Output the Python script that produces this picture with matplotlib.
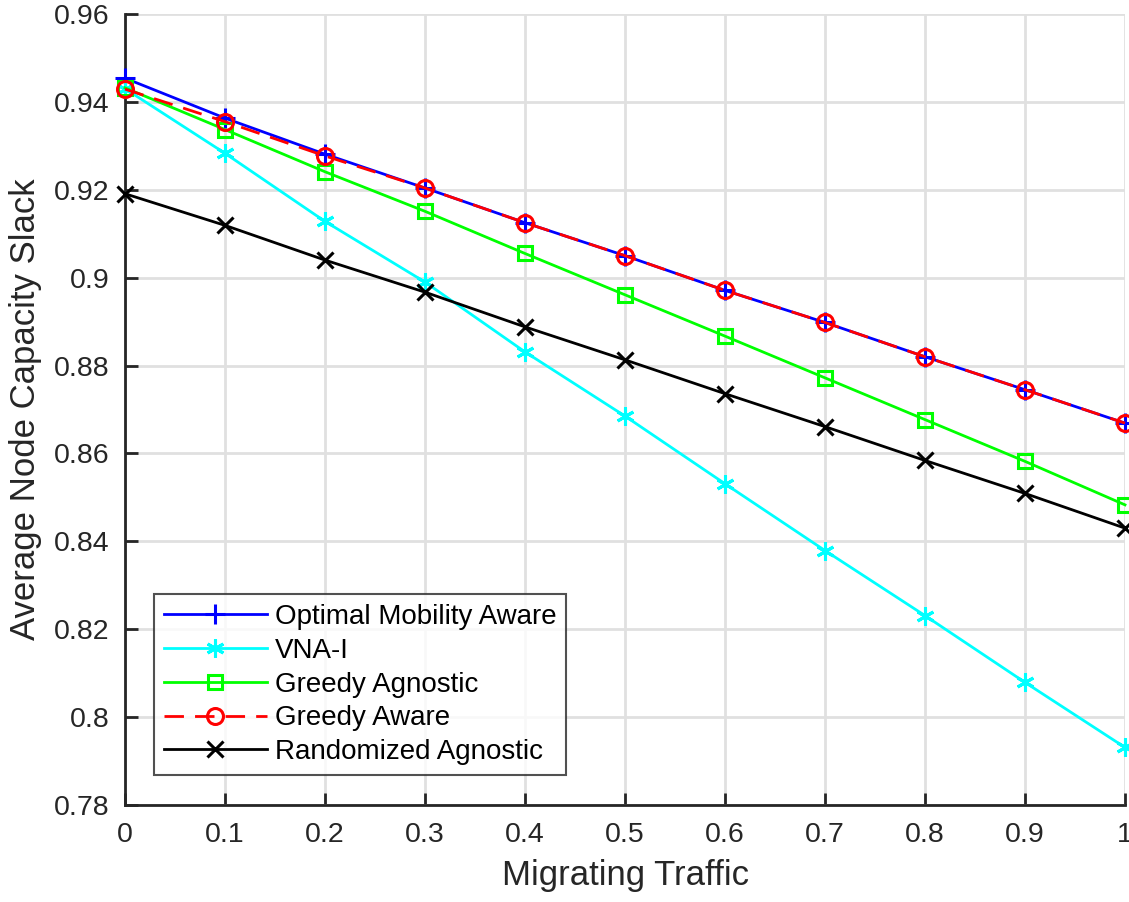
import numpy as np
import matplotlib
matplotlib.use("Agg")
import matplotlib.pyplot as plt

plt.rcParams['font.family'] = ['Liberation Sans', 'DejaVu Sans']

# Migrating traffic ratio
traffic = [0.0, 0.1, 0.2, 0.3, 0.4, 0.5, 0.6, 0.7, 0.8, 0.9, 1.0]

# Average node capacity slack per algorithm
optimal_aware = [0.9454, 0.9363, 0.9281, 0.9204, 0.9125, 0.9050, 0.8971,
                 0.8898, 0.8820, 0.8745, 0.8669]
vna_i = [0.9430, 0.9283, 0.9128, 0.8990, 0.8831, 0.8685, 0.8531,
         0.8379, 0.8231, 0.8079, 0.7931]
greedy_agnostic = [0.9432, 0.9337, 0.9241, 0.9151, 0.9055, 0.8961, 0.8867,
                   0.8772, 0.8677, 0.8582, 0.8483]
greedy_aware = [0.9429, 0.9355, 0.9277, 0.9204, 0.9125, 0.9050, 0.8971,
                0.8898, 0.8820, 0.8745, 0.8669]
random_agnostic = [0.9191, 0.9119, 0.9040, 0.8967, 0.8888, 0.8813, 0.8736,
                   0.8661, 0.8584, 0.8509, 0.8430]

fig = plt.figure(figsize=(11.29, 9.02), dpi=100)
ax = fig.add_axes([125/1129, 1 - 805/902, 1000/1129, 791/902])

lw = 2.0
ax.plot(traffic, optimal_aware, '-', color='#0000ff', marker='+', ms=14, mew=2.2,
        lw=lw, label='Optimal Mobility Aware', clip_on=False, zorder=3)
ax.plot(traffic, vna_i, '-', color='#00ffff', marker=(6, 2, 0), ms=13, mew=2.2,
        lw=lw, label='VNA-I', clip_on=False, zorder=3)
ax.plot(traffic, greedy_agnostic, '-', color='#00ff00', marker='s', ms=9.5, mew=2.2,
        mfc='none', lw=lw, label='Greedy Agnostic', clip_on=False, zorder=3)
ax.plot(traffic, greedy_aware, '--', color='#ff0000', marker='o', ms=11.5, mew=2.2,
        mfc='none', lw=lw, dashes=(7, 4), label='Greedy Aware', clip_on=False, zorder=4)
ax.plot(traffic, random_agnostic, '-', color='#000000', marker='x', ms=11, mew=2.2,
        lw=lw, label='Randomized Agnostic', clip_on=False, zorder=3)

ax.set_xlim(0, 1)
ax.set_ylim(0.78, 0.96)
ax.set_xticks(np.arange(0, 1.01, 0.1))
ax.set_xticklabels(['0', '0.1', '0.2', '0.3', '0.4', '0.5', '0.6', '0.7', '0.8', '0.9', '1'])
ax.set_yticks(np.arange(0.78, 0.961, 0.02))
ax.set_yticklabels(['0.78', '0.8', '0.82', '0.84', '0.86', '0.88', '0.9', '0.92', '0.94', '0.96'])

ax.grid(True, color='#e0e0e0', lw=2)
ax.set_axisbelow(True)
for s in ['top', 'right']:
    ax.spines[s].set_visible(False)
for s in ['left', 'bottom']:
    ax.spines[s].set_color('#262626')
    ax.spines[s].set_linewidth(2)
ax.tick_params(direction='in', length=9, width=2, color='#262626',
               labelsize=20.5, labelcolor='#262626')
ax.tick_params(axis='x', pad=12)
ax.tick_params(axis='y', pad=11)

ax.set_xlabel('Migrating Traffic', fontsize=25, color='#262626', labelpad=8)
ax.set_ylabel('Average Node Capacity Slack', fontsize=25, color='#262626', labelpad=9)

leg = ax.legend(loc='lower left', bbox_to_anchor=(0.029, 0.038), fontsize=20,
                frameon=True, fancybox=False, edgecolor='#262626',
                handlelength=3.7, borderpad=0.35, labelspacing=0.28,
                handletextpad=0.3, borderaxespad=0)
leg.get_frame().set_linewidth(1.5)

fig.savefig('out.png', dpi=100)
